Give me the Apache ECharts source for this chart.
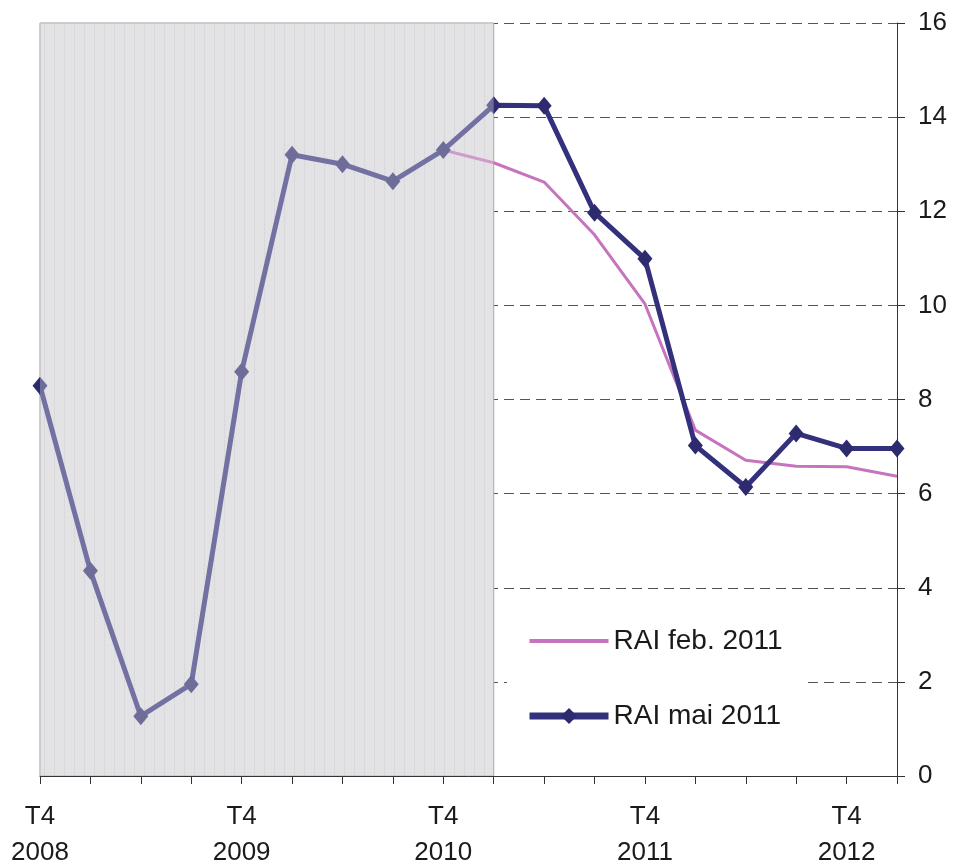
<!DOCTYPE html>
<html>
<head>
<meta charset="utf-8">
<style>
  html, body { margin: 0; padding: 0; background: #ffffff; }
  #chart { width: 953px; height: 866px; }
</style>
<script src="https://cdn.jsdelivr.net/npm/echarts@6/dist/echarts.min.js"></script>
</head>
<body>
<div id="chart"></div>
<script>
// Quarters, T4 2008 .. T1 2013
const quarters = [
  'T4 2008', 'T1 2009', 'T2 2009', 'T3 2009', 'T4 2009',
  'T1 2010', 'T2 2010', 'T3 2010', 'T4 2010',
  'T1 2011', 'T2 2011', 'T3 2011', 'T4 2011',
  'T1 2012', 'T2 2012', 'T3 2012', 'T4 2012',
  'T1 2013'
];

// Annual inflation forecast, February 2011 report (%)
const raiFeb2011 = [
  8.29, 4.36, 1.27, 1.95, 8.59, 13.2, 13.0, 12.64, 13.3,
  13.03, 12.62, 11.5, 10.03, 7.35, 6.71, 6.58, 6.57, 6.37
];

// Annual inflation forecast, May 2011 report (%)
const raiMai2011 = [
  8.29, 4.36, 1.27, 1.95, 8.59, 13.2, 13.0, 12.64, 13.3,
  14.25, 14.24, 11.97, 10.99, 7.02, 6.14, 7.28, 6.96, 6.96
];

// Historical (actual data) period
const historyStart = 'T4 2008';
const historyEnd = 'T1 2011';

const yTicks = { min: 0, max: 16, interval: 2 };

// Light grey fill with faint vertical hatching for the historical period
function hatchPattern() {
  const c = document.createElement('canvas');
  c.width = 10; c.height = 4;
  const ctx = c.getContext('2d');
  ctx.fillStyle = '#e3e3e5';
  ctx.fillRect(0, 0, 10, 4);
  ctx.fillStyle = '#cfcfd3';
  ctx.fillRect(4, 0, 1, 2);
  ctx.fillStyle = '#d8d8db';
  ctx.fillRect(4, 2, 1, 2);
  return c;
}

const chart = echarts.init(document.getElementById('chart'), null, { renderer: 'canvas' });

const FONT = 'Liberation Sans, Arial, sans-serif';

chart.setOption({
  animation: false,
  backgroundColor: '#ffffff',
  grid: { left: 40, right: 56, top: 23, bottom: 90, containLabel: false, outerBoundsMode: 'none' },
  xAxis: {
    type: 'category',
    data: quarters,
    boundaryGap: false,
    axisLine: { show: true, lineStyle: { color: '#333333', width: 1 } },
    axisTick: { show: true, interval: 0, length: 8, lineStyle: { color: '#333333' } },
    axisLabel: {
      interval: 3,
      margin: 23,
      color: '#1a1a1a',
      fontFamily: FONT,
      fontSize: 26,
      lineHeight: 36,
      formatter: v => v.replace(' ', '\n')
    },
    splitLine: { show: false }
  },
  yAxis: {
    type: 'value',
    position: 'right',
    min: yTicks.min,
    max: yTicks.max,
    interval: yTicks.interval,
    axisLine: { show: true, lineStyle: { color: '#333333', width: 1 } },
    axisTick: { show: true, length: 8, lineStyle: { color: '#333333' } },
    axisLabel: {
      align: 'left',
      margin: 21,
      color: '#1a1a1a',
      fontFamily: FONT,
      fontSize: 26
    },
    splitLine: { show: true, lineStyle: { color: '#555555', width: 1, type: [10, 6] } }
  },
  legend: {
    orient: 'vertical',
    left: 507,
    top: 600,
    padding: [27, 24, 12, 19],
    backgroundColor: '#ffffff',
    itemWidth: 79,
    itemHeight: 20,
    itemGap: 47,
    data: [
      { name: 'RAI feb. 2011', itemStyle: { opacity: 0 }, lineStyle: { width: 4 } },
      { name: 'RAI mai 2011', lineStyle: { width: 7 } }
    ],
    textStyle: { fontFamily: FONT, fontSize: 28, color: '#1a1a1a' }
  },
  series: [
    {
      // shaded background of the historical period
      name: 'istoric',
      type: 'line',
      data: [],
      z: 0,
      silent: true,
      markArea: {
        silent: true,
        z: 0,
        itemStyle: {
          color: { image: hatchPattern(), repeat: 'repeat' },
          borderColor: '#9a9a9a',
          borderWidth: 1
        },
        data: [[{ xAxis: historyStart, yAxis: yTicks.max }, { xAxis: historyEnd, yAxis: yTicks.min }]]
      }
    },
    {
      name: 'RAI feb. 2011',
      type: 'line',
      data: raiFeb2011,
      z: 2,
      symbol: 'none',
      lineStyle: { color: '#c674bd', width: 3 },
      itemStyle: { color: '#c674bd' }
    },
    {
      name: 'RAI mai 2011',
      type: 'line',
      data: raiMai2011,
      z: 3,
      symbol: 'diamond',
      symbolSize: [15, 18],
      lineStyle: { color: '#34317c', width: 5 },
      itemStyle: { color: '#2d2a6e' }
    },
    {
      // translucent veil over the historical period, lightening the lines beneath
      name: 'voal',
      type: 'line',
      data: [],
      z: 6,
      silent: true,
      markArea: {
        silent: true,
        z: 6,
        itemStyle: { color: 'rgba(226,226,229,0.36)' },
        data: [[{ xAxis: historyStart, yAxis: yTicks.max }, { xAxis: historyEnd, yAxis: yTicks.min }]]
      }
    }
  ]
});
</script>
</body>
</html>
